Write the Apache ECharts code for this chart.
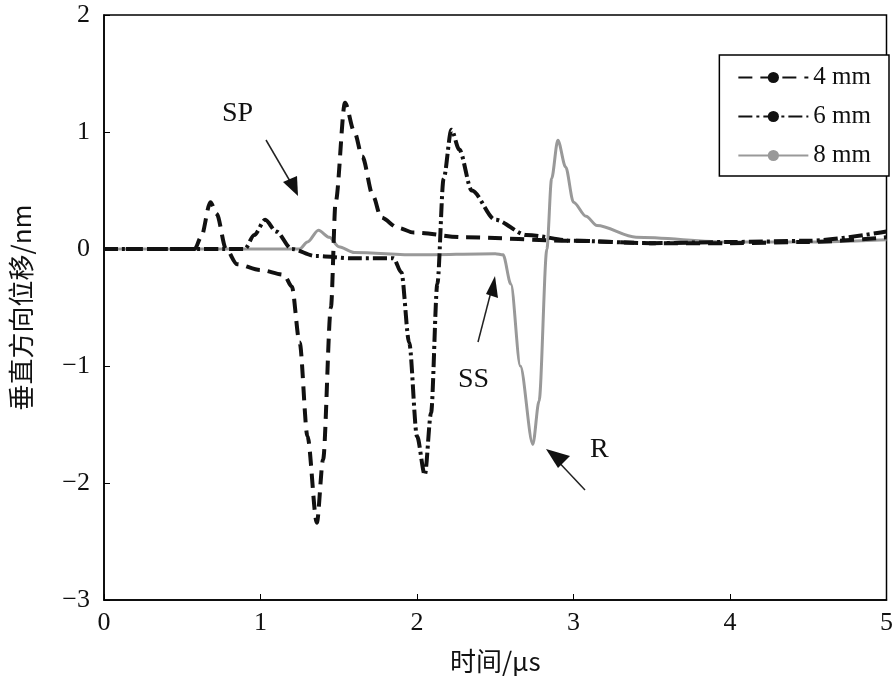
<!DOCTYPE html>
<html><head><meta charset="utf-8">
<script src="https://cdn.jsdelivr.net/npm/echarts@6/dist/echarts.min.js"></script>
<style>html,body{margin:0;padding:0;background:#fff}#c{width:896px;height:699px}</style>
</head><body><div id="c"></div>
<script>
const seriesNames = ['4 mm', '6 mm', '8 mm'];
const xTicks = [0, 1, 2, 3, 4, 5];
const yTicks = [-3, -2, -1, 0, 1, 2];
const d4 = [[0,0],[0.58,0],[0.62,0.1],[0.68,0.4],[0.72,0.3],[0.78,0.0],[0.85,-0.13],[1.0,-0.18],[1.15,-0.22],[1.2,-0.32],[1.25,-0.8],[1.3,-1.6],[1.36,-2.34],[1.4,-1.8],[1.45,-0.5],[1.48,0.4],[1.54,1.25],[1.6,1.0],[1.65,0.79],[1.72,0.45],[1.77,0.27],[1.88,0.18],[1.98,0.14],[2.3,0.1],[3.0,0.07],[3.5,0.05],[4.0,0.05],[4.5,0.06],[5.0,0.1]];
const d6 = [[0,0],[0.9,0],[0.96,0.12],[1.03,0.25],[1.1,0.15],[1.2,0.0],[1.35,-0.06],[1.6,-0.08],[1.85,-0.08],[1.9,-0.2],[1.95,-0.8],[2.0,-1.6],[2.05,-1.93],[2.09,-1.4],[2.13,-0.3],[2.17,0.6],[2.22,1.02],[2.27,0.85],[2.35,0.5],[2.5,0.25],[2.7,0.12],[3.0,0.07],[3.5,0.05],[4.0,0.06],[4.5,0.07],[5.0,0.15]];
const d8 = [[0,0],[1.25,0],[1.3,0.06],[1.37,0.16],[1.44,0.1],[1.5,0.02],[1.6,-0.03],[2.0,-0.05],[2.5,-0.04],[2.55,-0.05],[2.6,-0.3],[2.66,-1.0],[2.74,-1.67],[2.78,-1.3],[2.83,0.0],[2.86,0.6],[2.9,0.93],[2.95,0.7],[3.0,0.4],[3.08,0.28],[3.15,0.2],[3.4,0.1],[4.0,0.06],[4.5,0.06],[5.0,0.08]];

const chart = echarts.init(document.getElementById('c'));
const ff = '"Liberation Serif","DejaVu Serif",serif';
chart.setOption({
  animation: false,
  grid: {left: 100, right: 6, top: 15, bottom: 99, show: true, borderColor: '#000', borderWidth: 1.5},
  legend: {
    right: 7, top: 55, orient: 'vertical', itemWidth: 70, itemHeight: 14, itemGap: 14,
    borderColor: '#000', borderWidth: 1.5, padding: [10, 18, 8, 18], borderRadius: 0,
    backgroundColor: '#fff',
    textStyle: {fontFamily: ff, fontSize: 25, color: '#111'},
    data: seriesNames
  },
  xAxis: {type: 'value', min: 0, max: 5, interval: 1,
    name: '时间/μs', nameLocation: 'middle', nameGap: 48,
    nameTextStyle: {fontFamily: '"Noto Sans CJK SC",' + ff, fontSize: 26, color: '#111'},
    axisLine: {onZero: false, lineStyle: {color: '#000', width: 1.5}},
    axisTick: {inside: true, length: 6, lineStyle: {color: '#000'}},
    axisLabel: {fontFamily: ff, fontSize: 26, color: '#111', margin: 10,
      formatter: v => xTicks.includes(v) ? String(v) : ''},
    splitLine: {show: false}},
  yAxis: {type: 'value', min: -3, max: 2, interval: 1,
    name: '垂直方向位移/nm', nameLocation: 'middle', nameGap: 70,
    nameTextStyle: {fontFamily: '"Noto Sans CJK SC",' + ff, fontSize: 26, color: '#111'},
    axisLine: {onZero: false, lineStyle: {color: '#000', width: 1.5}},
    axisTick: {inside: true, length: 6, lineStyle: {color: '#000'}},
    axisLabel: {fontFamily: ff, fontSize: 26, color: '#111', margin: 14,
      formatter: v => yTicks.includes(v) ? (v < 0 ? '−' + Math.abs(v) : String(v)) : ''},
    splitLine: {show: false}},
  series: [
    {name: seriesNames[0], type: 'line', data: d4, smooth: 0.3, smoothMonotone: 'x', showSymbol: false, symbol: 'none', z: 3,
      lineStyle: {color: '#111', width: 4, type: [14, 8]}, itemStyle: {color: '#111'}},
    {name: seriesNames[1], type: 'line', data: d6, smooth: 0.3, smoothMonotone: 'x', showSymbol: false, symbol: 'none', z: 4,
      lineStyle: {color: '#111', width: 4, type: [14, 4, 3, 4]}, itemStyle: {color: '#111'}},
    {name: seriesNames[2], type: 'line', data: d8, smooth: 0.3, smoothMonotone: 'x', showSymbol: false, symbol: 'none', z: 2,
      lineStyle: {color: '#999', width: 3}, itemStyle: {color: '#999'}}
  ],
  graphic: [
    {type: 'text', left: 222, top: 100, style: {text: 'SP', font: '28px ' + ff, fill: '#111'}},
    {type: 'line', shape: {x1: 266, y1: 140, x2: 294, y2: 188}, style: {stroke: '#222', lineWidth: 1.5}},
    {type: 'polygon', shape: {points: [[298, 196], [283, 182], [297, 176]]}, style: {fill: '#111'}},
    {type: 'text', left: 458, top: 366, style: {text: 'SS', font: '28px ' + ff, fill: '#111'}},
    {type: 'line', shape: {x1: 478, y1: 342, x2: 493, y2: 284}, style: {stroke: '#222', lineWidth: 1.5}},
    {type: 'polygon', shape: {points: [[495, 276], [498, 298], [486, 294]]}, style: {fill: '#111'}},
    {type: 'text', left: 590, top: 436, style: {text: 'R', font: '28px ' + ff, fill: '#111'}},
    {type: 'line', shape: {x1: 585, y1: 490, x2: 553, y2: 456}, style: {stroke: '#222', lineWidth: 1.5}},
    {type: 'polygon', shape: {points: [[546, 449], [570, 456], [558, 468]]}, style: {fill: '#111'}}
  ]
});
</script></body></html>
